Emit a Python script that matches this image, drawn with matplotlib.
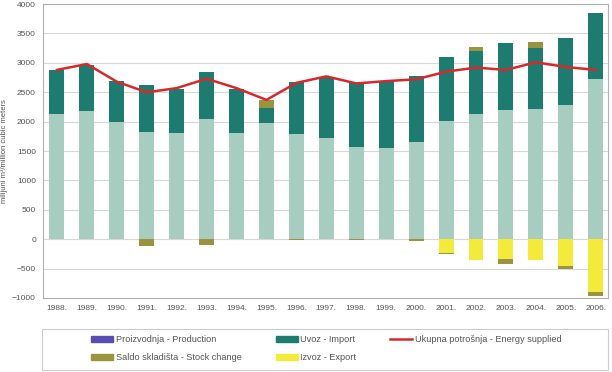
import numpy as np
import matplotlib
matplotlib.use('Agg')
import matplotlib.pyplot as plt
from matplotlib.patches import Patch, Rectangle
from matplotlib.lines import Line2D

plt.rcParams['font.family'] = ['Liberation Sans', 'DejaVu Sans']

years = ['1988.', '1989.', '1990.', '1991.', '1992.', '1993.', '1994.', '1995.', '1996.', '1997.',
         '1998.', '1999.', '2000.', '2001.', '2002.', '2003.', '2004.', '2005.', '2006.']
production = [2130, 2180, 1990, 1830, 1810, 2050, 1800, 1970, 1790, 1720,
              1570, 1560, 1660, 2010, 2130, 2200, 2210, 2290, 2720]
imports = [750, 790, 700, 790, 740, 790, 750, 270, 880, 1040,
           1080, 1130, 1110, 1090, 1080, 1140, 1040, 1130, 1120]
stock_change = [0, 0, 0, -120, 0, -100, 0, 120, -10, 0,
                -20, 0, -30, -10, 60, -90, 110, -50, -60]
exports = [0, 0, 0, 0, 0, 0, 0, 0, 0, 0,
           0, 0, 0, -240, -360, -340, -350, -450, -900]
energy_supplied = [2880, 2980, 2680, 2500, 2570, 2730, 2570, 2370, 2660, 2770,
                   2650, 2690, 2720, 2850, 2920, 2880, 3010, 2930, 2880]

c_prod = '#a6cdbf'
c_imp = '#1e7b70'
c_stock = '#9a9440'
c_exp = '#f4ea3c'
c_line = '#d9282b'
txt = '#555555'

x = np.arange(len(years))
production = np.array(production)
imports = np.array(imports)
stock_change = np.array(stock_change)
exports = np.array(exports)

fig = plt.figure(figsize=(6.12, 3.72), dpi=100)
ax = fig.add_axes([0.070, 0.199, 0.923, 0.790])
w = 0.5

ax.bar(x, production, w, color=c_prod, zorder=2)
ax.bar(x, imports, w, bottom=production, color=c_imp, zorder=2)
stock_pos = np.where(stock_change > 0, stock_change, 0)
stock_neg = np.where(stock_change < 0, stock_change, 0)
ax.bar(x, stock_pos, w, bottom=production + imports, color=c_stock, zorder=2)
ax.bar(x, exports, w, color=c_exp, zorder=2)
ax.bar(x, stock_neg, w, bottom=exports, color=c_stock, zorder=2)
ax.plot(x, energy_supplied, color=c_line, lw=1.8, zorder=3)

ax.set_ylim(-1000, 4000)
ax.set_xlim(-0.47, 18.4)
ax.set_yticks(np.arange(-1000, 4001, 500))
ax.set_xticks(x)
ax.set_xticklabels(years)
ax.tick_params(axis='both', length=0, labelsize=6, colors=txt)
ax.tick_params(axis='x', pad=5)
ax.tick_params(axis='y', pad=5)
ax.grid(axis='y', color='#d8d8d8', lw=0.8, zorder=0)
for s in ax.spines.values():
    s.set_color('#b0b0b0')
ax.set_ylabel('milijuni m³/million cubic meters', fontsize=5.5, color=txt, labelpad=3)

# legend frame
fig.patches.append(Rectangle((42 / 612, 1 - 370 / 372), 566 / 612, 41 / 372,
                             transform=fig.transFigure, fill=False,
                             edgecolor='#cccccc', lw=0.8))

handles = [Patch(color='#5a4db0'), Patch(color=c_imp), Line2D([], [], color=c_line, lw=1.8),
           Patch(color=c_stock), Patch(color=c_exp)]
labels = ['Proizvodnja - Production', 'Uvoz - Import', 'Ukupna potrošnja - Energy supplied',
          'Saldo skladišta - Stock change', 'Izvoz - Export']
order = [0, 3, 1, 4, 2]
leg = fig.legend([handles[i] for i in order], [labels[i] for i in order], ncol=3,
                 loc='upper left', bbox_to_anchor=(91 / 612, 1 - 335 / 372),
                 fontsize=6.6, frameon=False,
                 handlelength=2.4, handleheight=0.55, handletextpad=0.3,
                 columnspacing=3.7, borderpad=0, labelspacing=1.0, borderaxespad=0)
for t in leg.get_texts():
    t.set_color(txt)

fig.savefig('out.png', dpi=100)
